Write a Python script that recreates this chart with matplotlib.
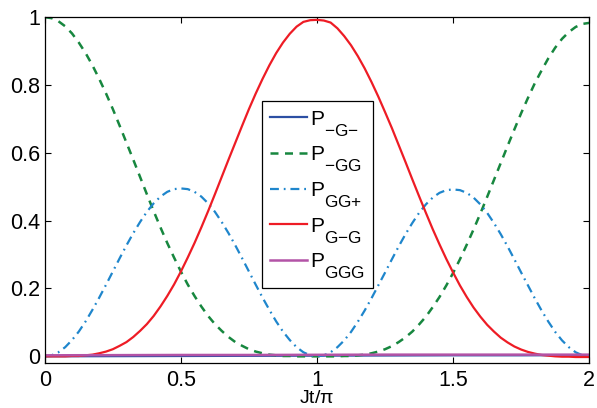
"""Occupation probabilities versus Jt/pi."""

import matplotlib

matplotlib.use("Agg")
import matplotlib._mathtext as mathtext_internal  # noqa: E402
import matplotlib.pyplot as plt  # noqa: E402
import numpy as np  # noqa: E402

# legend subscripts in the reference are big and sit low
mathtext_internal.SHRINK_FACTOR = 0.82
mathtext_internal.FontConstantsBase.sub1 = 1.0

# ---------- data ----------------------------------------------------------

jt = np.linspace(0, 2, 81)          # step 0.025
jt_coarse = np.linspace(0, 2, 9)    # step 0.25

p_mgg = [1.000, 0.997, 0.988, 0.973, 0.952, 0.925, 0.894, 0.858, 0.818, 0.775,
         0.729, 0.680, 0.630, 0.580, 0.529, 0.478, 0.428, 0.380, 0.334, 0.291,
         0.250, 0.212, 0.178, 0.147, 0.119, 0.095, 0.075, 0.057, 0.042, 0.031,
         0.021, 0.014, 0.009, 0.005, 0.003, 0.001, 0.001, 0.000, 0.000, 0.000,
         0.000,
         0.000, 0.000, 0.000, 0.001, 0.001, 0.003, 0.005, 0.009, 0.014, 0.021,
         0.030, 0.042, 0.056, 0.073, 0.094, 0.117, 0.145, 0.175, 0.209, 0.246,
         0.286, 0.329, 0.374, 0.421, 0.470, 0.520, 0.570, 0.620, 0.669, 0.717,
         0.762, 0.805, 0.843, 0.879, 0.910, 0.936, 0.956, 0.971, 0.980, 0.983]

p_ggp = [0.000, 0.003, 0.012, 0.027, 0.048, 0.073, 0.103, 0.137, 0.173, 0.211,
         0.250, 0.289, 0.327, 0.363, 0.396, 0.426, 0.451, 0.471, 0.485, 0.493,
         0.495, 0.493, 0.485, 0.471, 0.451, 0.426, 0.396, 0.363, 0.327, 0.289,
         0.250, 0.211, 0.173, 0.137, 0.103, 0.073, 0.048, 0.027, 0.012, 0.003,
         0.000,
         0.003, 0.012, 0.027, 0.047, 0.072, 0.102, 0.135, 0.171, 0.209, 0.247,
         0.286, 0.324, 0.360, 0.393, 0.423, 0.448, 0.468, 0.482, 0.490, 0.492,
         0.490, 0.482, 0.468, 0.448, 0.423, 0.393, 0.360, 0.324, 0.286, 0.247,
         0.209, 0.171, 0.135, 0.102, 0.072, 0.047, 0.027, 0.012, 0.003, 0.000]

p_gmg = [0.000, 0.000, 0.000, 0.000, 0.001, 0.001, 0.003, 0.005, 0.009, 0.014,
         0.021, 0.031, 0.042, 0.057, 0.075, 0.095, 0.119, 0.147, 0.178, 0.212,
         0.250, 0.291, 0.334, 0.380, 0.428, 0.478, 0.529, 0.580, 0.630, 0.680,
         0.729, 0.775, 0.818, 0.858, 0.894, 0.925, 0.951, 0.972, 0.986, 0.991,
         0.992,
         0.990, 0.984, 0.967, 0.944, 0.917, 0.885, 0.849, 0.809, 0.766, 0.720,
         0.673, 0.623, 0.573, 0.522, 0.472, 0.423, 0.375, 0.330, 0.287, 0.247,
         0.209, 0.175, 0.144, 0.117, 0.093, 0.073, 0.055, 0.041, 0.029, 0.020,
         0.013, 0.008, 0.004, 0.002, 0.000, -0.001, -0.001, -0.002, -0.002,
         -0.002]

p_mgm = [0.000, 0.0005, 0.001, 0.0015, 0.002, 0.0025, 0.003, 0.003, 0.0035]
p_ggg = [0.003, 0.0035, 0.004, 0.004, 0.0045, 0.005, 0.005, 0.005, 0.005]

labels = [r"$\mathregular{P_{{-}G{-}}}$", r"$\mathregular{P_{{-}GG}}$",
          r"$\mathregular{P_{GG{+}}}$", r"$\mathregular{P_{G{-}G}}$",
          r"$\mathregular{P_{GGG}}$"]

x_ticks = [0, 0.5, 1, 1.5, 2]
x_tick_labels = ["0", "0.5", "1", "1.5", "2"]
y_ticks = [0, 0.2, 0.4, 0.6, 0.8, 1]
y_tick_labels = ["0", "0.2", "0.4", "0.6", "0.8", "1"]

# ---------- plotting -------------------------------------------------------

plt.rcParams["font.family"] = ["Liberation Sans", "DejaVu Sans"]
plt.rcParams["mathtext.fontset"] = "custom"
plt.rcParams["mathtext.rm"] = "Liberation Sans"

fig = plt.figure(figsize=(5.97, 4.08), dpi=100)
ax = fig.add_axes([0.075, 0.110, 0.912, 0.848])

ax.plot(jt_coarse, p_mgm, color="#2c4fa3", linewidth=1.6, label=labels[0])
ax.plot(jt, p_mgg, color="#17873f", linewidth=1.8, linestyle=(0, (3.2, 2.6)),
        label=labels[1])
ax.plot(jt, p_ggp, color="#1f86cc", linewidth=1.6,
        linestyle=(0, (4, 2.2, 0.8, 2.2)), label=labels[2])
ax.plot(jt, p_gmg, color="#ee1c25", linewidth=1.6, label=labels[3])
ax.plot(jt_coarse, p_ggg, color="#b353a6", linewidth=1.8, label=labels[4])

ax.set_xlim(0, 2)
ax.set_ylim(-0.02, 1.0)
ax.set_xticks(x_ticks, x_tick_labels)
ax.set_yticks(y_ticks, y_tick_labels)
ax.tick_params(direction="in", length=4.5, width=0.8, labelsize=15.5,
               top=True, right=True, pad=5)
ax.tick_params(axis="y", pad=3)
for sp in ax.spines.values():
    sp.set_linewidth(0.9)
ax.set_xlabel(r"Jt/$\mathregular{\pi}$", fontsize=14)
ax.xaxis.set_label_coords(0.5, -0.077)

leg = ax.legend(loc="upper left", bbox_to_anchor=(0.399, 0.757), fontsize=15,
                handlelength=1.8, handletextpad=0.15, labelspacing=0.32,
                borderpad=0.36, fancybox=False, framealpha=1, borderaxespad=0)
leg.get_frame().set_edgecolor("black")
leg.get_frame().set_linewidth(0.9)

fig.savefig("out.png", dpi=100)
